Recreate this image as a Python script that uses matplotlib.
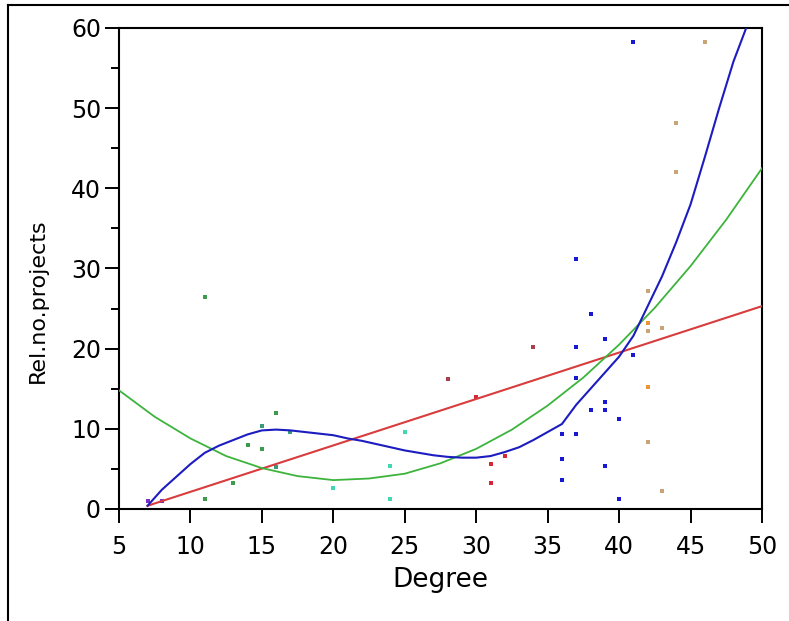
import matplotlib
matplotlib.use("Agg")
import matplotlib.pyplot as plt
from matplotlib.lines import Line2D

# scatter points, grouped by colour
purple_x = [7, 8]
purple_y = [1.0, 1.0]
green_x = [11, 16, 14, 15, 13, 11]
green_y = [26.5, 12.0, 8.0, 7.5, 3.3, 1.3]
teal_x = [15, 17, 16]
teal_y = [10.3, 9.6, 5.2]
cyan_x = [20, 24, 24, 25]
cyan_y = [2.6, 5.3, 1.2, 9.6]
maroon_x = [28, 34]
maroon_y = [16.2, 20.2]
red_x = [31, 31, 32, 30]
red_y = [5.6, 3.3, 6.6, 14.0]
blue_x = [36, 36, 36, 37, 37, 37, 37, 38, 38, 39, 39, 39, 39, 40, 40, 41, 41]
blue_y = [9.3, 6.2, 3.6, 9.3, 16.3, 20.2, 31.2, 24.3, 12.3, 21.2, 13.3, 12.3, 5.3, 11.2, 1.2, 19.2, 58.2]
orange_x = [42, 42]
orange_y = [23.2, 15.2]
tan_x = [42, 42, 43, 42, 43, 44, 44, 46]
tan_y = [27.2, 22.2, 22.6, 8.3, 2.3, 48.2, 42.0, 58.2]

# fitted curves
lin_x = [7, 50]
lin_y = [0.4, 25.3]
quad_x = [5, 7.5, 10, 12.5, 15, 17.5, 20, 22.5, 25, 27.5, 30, 32.5, 35, 37.5, 40, 42.5, 45, 47.5, 50]
quad_y = [14.8, 11.5, 8.8, 6.6, 5.1, 4.1, 3.6, 3.8, 4.4, 5.7, 7.5, 9.9, 12.9, 16.4, 20.5, 25.1, 30.3, 36.1, 42.5]
poly_x = [7, 8, 9, 10, 11, 12, 13, 14, 15, 16, 17, 18, 19, 20, 21, 22, 23, 24, 25, 26, 27, 28,
          29, 30, 31, 32, 33, 34, 35, 36, 37, 38, 39, 40, 41, 42, 43, 44, 45, 46, 47, 48, 49]
poly_y = [0.4, 2.4, 4.0, 5.6, 7.0, 7.9, 8.6, 9.3, 9.8, 9.9, 9.8, 9.6, 9.4, 9.2, 8.8, 8.5, 8.1, 7.7,
          7.3, 7.0, 6.7, 6.5, 6.4, 6.4, 6.6, 7.1, 7.7, 8.6, 9.6, 10.6, 13.0, 15.0, 17.0, 19.0,
          21.6, 25.3, 29.0, 33.3, 38.0, 43.9, 50.0, 55.8, 60.5]

fig = plt.figure(figsize=(7.89, 6.21), dpi=100)
ax = fig.add_axes([0.1508, 0.1804, 0.815, 0.7746])

groups = [
    (purple_x, purple_y, '#7a30c8'),
    (green_x, green_y, '#3c9c4c'),
    (teal_x, teal_y, '#3a9a7a'),
    (cyan_x, cyan_y, '#40d8b0'),
    (maroon_x, maroon_y, '#a8404c'),
    (red_x, red_y, '#d42838'),
    (blue_x, blue_y, '#1818d0'),
    (orange_x, orange_y, '#e89438'),
    (tan_x, tan_y, '#c8a478'),
]
for gx, gy, col in groups:
    ax.scatter(gx, gy, s=12, marker='s', color=col, linewidths=0, zorder=2)

ax.plot(lin_x, lin_y, color='#d83c3c', lw=1.5, zorder=3)
ax.plot(quad_x, quad_y, color='#3cb43c', lw=1.3, zorder=3)
ax.plot(poly_x, poly_y, color='#1c1cc0', lw=1.5, zorder=3)

ax.set_xlim(5, 50)
ax.set_ylim(0, 60)
ax.set_xticks(range(5, 51, 5))
ax.set_yticks(range(0, 61, 10))
ax.set_yticks(range(5, 60, 10), minor=True)
ax.tick_params(axis='both', which='major', direction='out', width=1.4, labelsize=17)
ax.tick_params(axis='x', which='major', length=10, pad=9)
ax.tick_params(axis='y', which='major', length=10, pad=3)
ax.tick_params(axis='y', which='minor', direction='out', length=6, width=1.4)
for sp in ax.spines.values():
    sp.set_linewidth(1.5)
ax.set_xlabel('Degree', fontsize=19, va='center')
ax.set_ylabel('Rel.no.projects', fontsize=16, va='center')
ax.xaxis.set_label_coords(0.5, -0.148)
ax.yaxis.set_label_coords(-0.126, 0.432)

# outer frame, only top and left edges visible
fig.add_artist(Line2D([8 / 789, 1], [1 - 5 / 621, 1 - 5 / 621], color='black', lw=1.5))
fig.add_artist(Line2D([8 / 789, 8 / 789], [0, 1 - 5 / 621], color='black', lw=1.5))

fig.savefig('out.png', dpi=100)
